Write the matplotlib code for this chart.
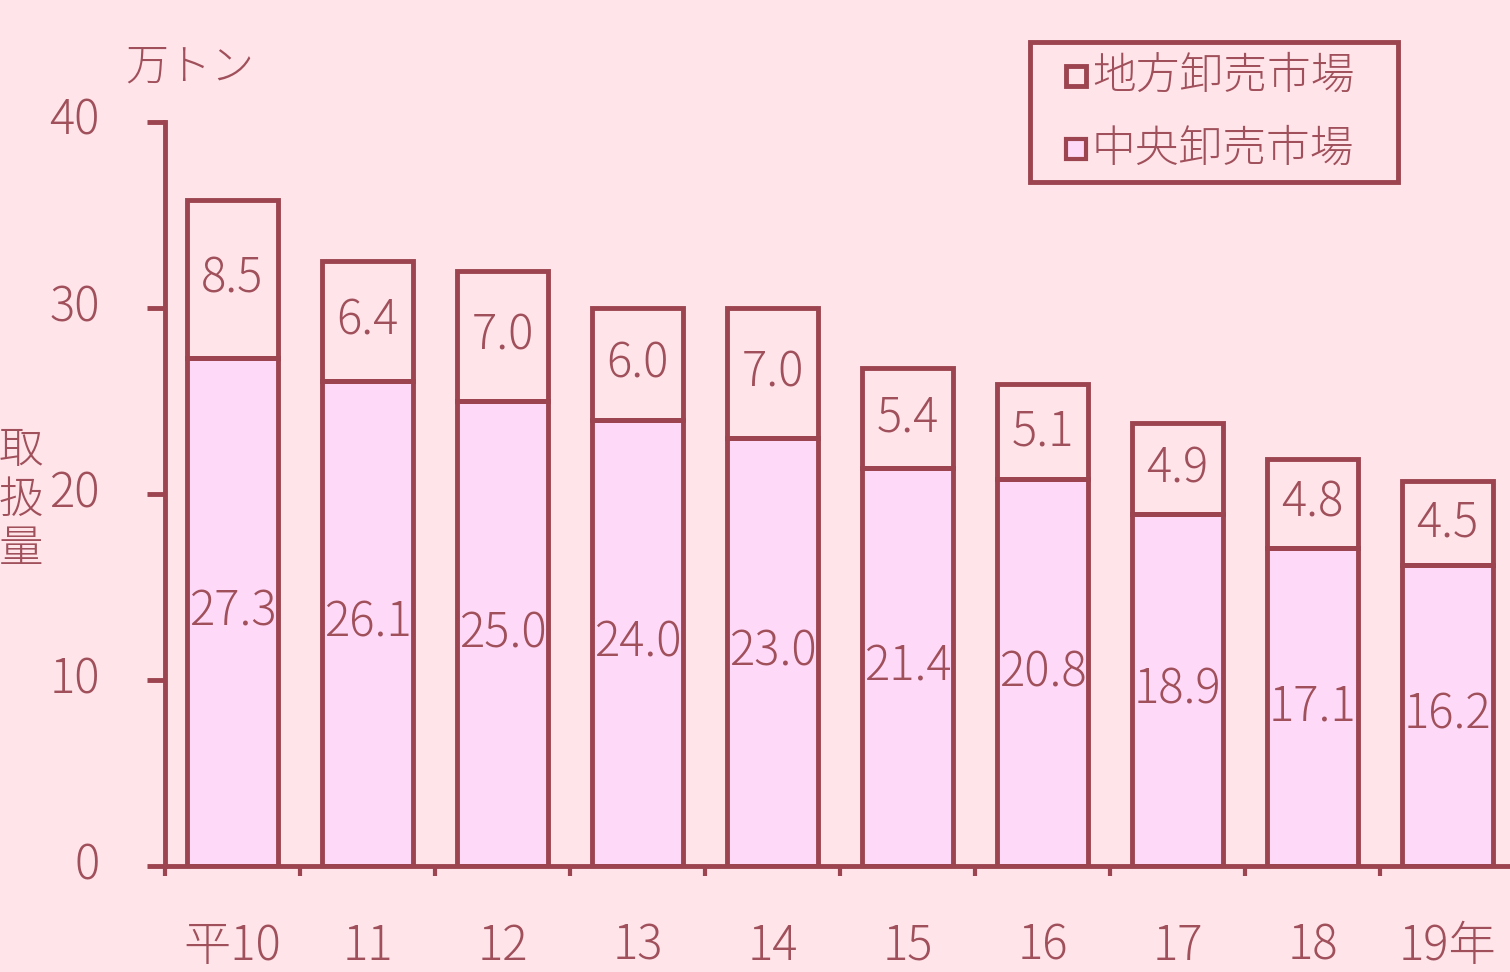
import matplotlib
matplotlib.use("Agg")
import matplotlib.pyplot as plt
from matplotlib.patches import Rectangle
from matplotlib.transforms import ScaledTranslation

plt.rcParams['font.family'] = ['Noto Sans CJK JP', 'DejaVu Sans']
plt.rcParams['font.weight'] = 'light'

# 取扱量（万トン）
years = ["平10", "11", "12", "13", "14", "15", "16", "17", "18", "19年"]
chuo = [27.3, 26.1, 25.0, 24.0, 23.0, 21.4, 20.8, 18.9, 17.1, 16.2]   # 中央卸売市場
chiho = [8.5, 6.4, 7.0, 6.0, 7.0, 5.4, 5.1, 4.9, 4.8, 4.5]            # 地方卸売市場
series_names = ["地方卸売市場", "中央卸売市場"]

bg = "#FFE4EA"
fill_c = "#FFDAF8"
edge = "#9C4450"
txt = "#A0505A"

W, H = 1510, 972
fig = plt.figure(figsize=[W / 100, H / 100], dpi=100, facecolor=bg)
ax = fig.add_axes([165 / W, 1 - 866 / H, 1350 / W, (866 - 122) / H])
ax.set_facecolor(bg)

x = list(range(len(years)))
w = 0.68
lw = 3.5

# fills first, labels next, then outlines on top
ax.bar(x, chuo, width=w, color=fill_c, linewidth=0, zorder=1)
ax.bar(x, chiho, width=w, bottom=chuo, color=bg, linewidth=0, zorder=1)

for i in x:
    ax.text(i, chuo[i] / 2, f"{chuo[i]:.1f}", ha="center", va="center",
            fontsize=34, color=txt, zorder=2)
    ax.text(i, chuo[i] + chiho[i] / 2, f"{chiho[i]:.1f}", ha="center", va="center",
            fontsize=34, color=txt, zorder=2)

ax.bar(x, chuo, width=w, fill=False, edgecolor=edge, linewidth=lw, zorder=3)
ax.bar(x, chiho, width=w, bottom=chuo, fill=False, edgecolor=edge, linewidth=lw, zorder=3)

ax.set_xlim(-0.5, len(years) - 0.5)
ax.set_ylim(0, 40)

for s in ["top", "right"]:
    ax.spines[s].set_visible(False)
for s in ["left", "bottom"]:
    ax.spines[s].set_color(edge)
    ax.spines[s].set_linewidth(lw)
    ax.spines[s].set_zorder(4)

ax.set_yticks([0, 10, 20, 30, 40])
ax.tick_params(axis="y", length=13, width=lw, color=edge, pad=34,
               labelsize=34, labelcolor=txt)
# the y numbers sit a little above their ticks in the original
up = ScaledTranslation(0, 0.06, fig.dpi_scale_trans)
for lab in ax.get_yticklabels():
    lab.set_transform(lab.get_transform() + up)

ax.set_xticks([i - 0.5 for i in range(len(years) + 1)])
ax.set_xticklabels([])
ax.set_xticks(x, minor=True)
ax.set_xticklabels(years, minor=True)
ax.tick_params(axis="x", which="major", length=7, width=3, color=edge)
ax.tick_params(axis="x", which="minor", length=0, pad=40, labelsize=34, labelcolor=txt)

# legend box drawn by hand (地方 first, then 中央)
fig.patches.append(Rectangle((1030 / W, 1 - 182 / H), 368 / W, 140 / H,
                             transform=fig.transFigure, facecolor=bg,
                             edgecolor=edge, linewidth=3.5))
for k, (name, fc) in enumerate(zip(series_names, [bg, fill_c])):
    yc = 76 + k * 73
    fig.patches.append(Rectangle((1066 / W, 1 - (yc + 10) / H), 20 / W, 20 / H,
                                 transform=fig.transFigure, facecolor=fc,
                                 edgecolor=edge, linewidth=3.5 if k == 0 else 3))
    fig.text(1092 / W, 1 - yc / H, name, ha="left", va="center",
             fontsize=31.5, color=txt)

fig.text(125 / W, 1 - 67 / H, "万トン", ha="left", va="center", fontsize=31, color=txt)
fig.text(21 / W, 1 - 500 / H, "取\n扱\n量", ha="center", va="center",
         fontsize=32, color=txt, linespacing=1.12)

fig.savefig("out.png", dpi=100, facecolor=bg)
